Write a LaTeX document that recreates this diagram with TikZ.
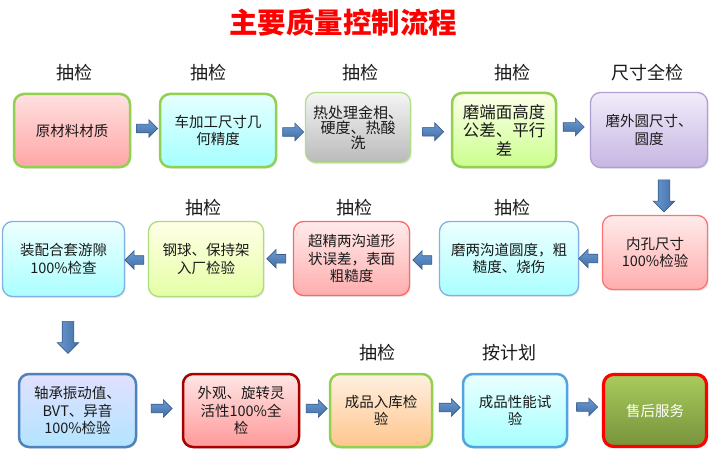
\documentclass[tikz,border=0pt]{standalone}
\usepackage{fontspec}
\setmainfont{Noto Sans CJK SC}
\usetikzlibrary{shapes.arrows,calc,shadows}
\definecolor{gborder}{HTML}{92D050}
\definecolor{txt}{HTML}{1A1A1A}
\definecolor{arrfill}{HTML}{4F81BD}
\definecolor{arrtop}{HTML}{6A9AD6}
\definecolor{arrline}{HTML}{385D8A}
\definecolor{olivetop}{HTML}{A9CB5C}
\definecolor{olivebot}{HTML}{77933C}
\definecolor{lavtop}{HTML}{F1ECFA}
\definecolor{lavbot}{HTML}{C6B6E2}
\definecolor{lavline}{HTML}{B09FD3}
\begin{document}
\begin{tikzpicture}[x=1pt,y=-1pt,
  box/.style n args={2}{draw, rounded corners=10pt, minimum width=#1, minimum height=#2,
     align=center, text=txt, inner sep=2pt,
     font=\fontsize{14.5}{17.5}\selectfont,
     drop shadow={opacity=0.18, shadow xshift=1.2pt, shadow yshift=-1.5pt}},
  lbl/.style={text=txt, font=\fontsize{18}{20}\selectfont, inner sep=0pt},
  harrow/.style={single arrow, draw=arrline, line width=0.6pt, top color=arrtop, bottom color=arrfill!85!black,
     minimum height=21pt, minimum width=17pt, inner xsep=0pt, inner ysep=4pt,
     single arrow head extend=4.5pt, anchor=center},
  larrow/.style={single arrow, draw=arrline, line width=0.6pt, top color=arrtop, bottom color=arrfill!85!black,
     minimum height=19pt, minimum width=18pt, inner xsep=0pt, inner ysep=4pt,
     single arrow head extend=5pt, shape border rotate=180, anchor=center},
  varrow/.style={single arrow, draw=arrline, line width=0.6pt, left color=arrtop, right color=arrfill!85!black,
     minimum height=32pt, minimum width=21pt, inner xsep=5.5pt, inner ysep=0pt,
     single arrow head extend=5pt, shape border rotate=270, anchor=center}
]
\useasboundingbox[fill=white] (0,0) rectangle (720,468);

% title
\node[text=red, font=\fontsize{28.5}{30}\selectfont\bfseries] (title) at (343,23) {主要质量控制流程};

% row 1
\node[box={116pt}{73pt}, draw=gborder, line width=2.5pt, top color=red!12, bottom color=red!35] (b1) at (72,130.5) {原材料材质};
\node[box={116pt}{73pt}, draw=gborder, line width=2.5pt, top color={cyan!10}, bottom color={cyan!35}] (b2) at (218,130.5) {车加工尺寸几\\何精度};
\node[box={105pt}{70pt}, draw=gborder!70, line width=1.2pt, top color=black!4, bottom color=black!27, font=\fontsize{15}{15}\selectfont] (b3) at (358,127.5) {热处理金相、\\硬度、热酸\\洗};
\node[box={104pt}{74pt}, draw=gborder, line width=2.5pt, top color={green!10!yellow!8}, bottom color={green!45!yellow!45!white}, font=\fontsize{16.5}{18.5}\selectfont] (b4) at (504,130) {磨端面高度\\公差、平行\\差};
\node[box={117pt}{75pt}, draw=lavline, line width=1.3pt, top color=lavtop, bottom color=lavbot] (b5) at (649,130) {磨外圆尺寸、\\圆度};

% row 2
\node[box={105pt}{74pt}, draw=red!55, line width=1.3pt, top color=red!8, bottom color=red!32] (b6) at (655,252.5) {内孔尺寸\\100\%检验};
\node[box={139pt}{74pt}, draw=cyan!60!blue!50, line width=1.3pt, top color=cyan!7, bottom color=cyan!33] (b7) at (509,258.5) {磨两沟道圆度，粗\\糙度、烧伤};
\node[box={116pt}{74pt}, draw=red!60, line width=1.3pt, top color=red!8, bottom color=red!32] (b8) at (351.5,258.5) {超精两沟道形\\状误差，表面\\粗糙度};
\node[box={115pt}{75pt}, draw=gborder!75, line width=1.3pt, top color=yellow!10, bottom color={green!30!yellow!35}] (b9) at (206,259) {钢球、保持架\\入厂检验};
\node[box={122pt}{75pt}, draw=cyan!60!blue!50, line width=1.3pt, top color=cyan!7, bottom color=cyan!33] (b10) at (63.5,259) {装配合套游隙\\100\%检查};

% row 3
\node[box={117pt}{73pt}, draw=arrfill, line width=2.5pt, top color={blue!12}, bottom color={blue!35!cyan!30}] (b11) at (77.5,410.5) {轴承振动值、\\BVT、异音\\100\%检验};
\node[box={116pt}{73pt}, draw={red!65!black}, line width=2.5pt, top color=red!10, bottom color=red!40] (b12) at (241,410.5) {外观、旋转灵\\活性100\%全\\检};
\node[box={102pt}{73pt}, draw=gborder, line width=2.5pt, top color=orange!12, bottom color=orange!45] (b13) at (381,410.5) {成品入库检\\验};
\node[box={104pt}{73pt}, draw=cyan!70!blue!70, line width=2.5pt, top color=cyan!8, bottom color=cyan!35] (b14) at (515,410.5) {成品性能试\\验};
\node[box={103pt}{72pt}, draw=red, line width=3.2pt, top color=olivetop, bottom color=olivebot, text=white] (b15) at (655,410.5) {售后服务};

% labels
\node[lbl] (l1) at (74,73) {抽检};
\node[lbl] (l2) at (208,73) {抽检};
\node[lbl] (l3) at (360,73) {抽检};
\node[lbl] (l4) at (512,73) {抽检};
\node[lbl] (l5) at (647,73) {尺寸全检};
\node[lbl] (l6) at (203,208) {抽检};
\node[lbl] (l7) at (354,208) {抽检};
\node[lbl] (l8) at (512,208) {抽检};
\node[lbl] (l9) at (377,353) {抽检};
\node[lbl] (l10) at (509.5,353) {按计划};

% arrows
\node[harrow] (a12) at ($(b1.east)!0.5!(b2.west)+(0,-2)$) {};
\node[harrow] (a23) at ($(b2.east)!0.5!(b3.west)+(0,3)$) {};
\node[harrow] (a34) at ($(b3.east)!0.5!(b4.west)+(0,3)$) {};
\node[harrow] (a45) at ($(b4.east)!0.5!(b5.west)+(-2,-3)$) {};
\node[varrow] (a56) at (664,193) {};
\node[larrow] (a67) at ($(b6.west)!0.5!(b7.east)+(0,3)$) {};
\node[larrow] (a78) at ($(b7.west)!0.5!(b8.east)+(0,1.5)$) {};
\node[larrow] (a89) at ($(b8.west)!0.5!(b9.east)$) {};
\node[larrow] (a910) at ($(b9.west)!0.5!(b10.east)+(0,1)$) {};
\node[varrow] (a1011) at (68,334.5) {};
\node[harrow] (a1112) at ($(b11.east)!0.5!(b12.west)+(0,-2)$) {};
\node[harrow] (a1213) at ($(b12.east)!0.5!(b13.west)+(0,-2)$) {};
\node[harrow] (a1314) at ($(b13.east)!0.5!(b14.west)+(0,-3)$) {};
\node[harrow] (a1415) at ($(b14.east)!0.5!(b15.west)+(0,-3.5)$) {};
\end{tikzpicture}
\end{document}
